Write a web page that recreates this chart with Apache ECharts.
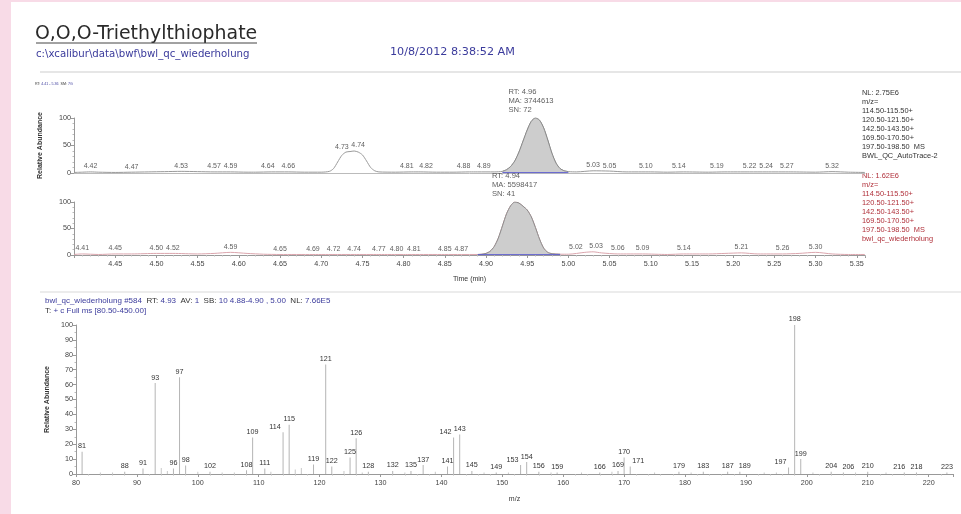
<!DOCTYPE html>
<html>
<head>
<meta charset="utf-8">
<script src="https://cdn.jsdelivr.net/npm/echarts@6/dist/echarts.min.js"></script>
<style>
html, body { margin: 0; padding: 0; background: #fff; }
#chart { width: 961px; height: 514px; }
</style>
</head>
<body>
<div id="chart"></div>
<script>
// top trace (BWL_QC_AutoTrace-2)
const time1 = [4.40,4.41,4.42,4.43,4.45,4.47,4.49,4.51,4.53,4.55,4.57,4.59,4.61,4.62,4.64,4.66,4.68,4.70,4.71,4.715,
  4.72,4.725,4.73,4.735,4.74,4.745,4.75,4.755,4.76,4.765,4.77,4.79,4.81,4.82,4.84,4.86,4.88,4.89,4.91,4.92,
  4.925,4.93,4.935,4.94,4.945,4.95,4.955,4.96,4.965,4.97,4.975,4.98,4.985,4.99,4.995,5.00,5.01,5.03,5.05,5.07,
  5.10,5.12,5.14,5.17,5.19,5.22,5.24,5.27,5.30,5.32,5.34,5.36];
const abund1 = [1,1.5,2,1.5,1,1.5,2,2.5,3,2.5,2,2,1.5,1.5,2,2,1.5,1.5,3,8,
  20,32,38,39,40,38,33,22,10,4,2,1.5,2,2,1.5,1.5,2,2,2,3,
  6,12,22,38,58,78,94,100,96,82,60,36,18,8,4,2.5,2,4,3.5,2,
  2,1.5,2,1.5,2,2,2,2,1.5,2.5,1.5,1];
const fill1 = [4.92, 5.00];
const labels1 = [4.42,4.47,4.53,4.57,4.59,4.64,4.66,4.73,4.74,4.81,4.82,4.88,4.89,5.03,5.05,5.10,5.14,5.19,5.22,5.24,5.27,5.32];
const peakRT1 = 4.96, peakMA1 = 3744613, peakSN1 = 72;
const legend1 = ['NL: 2.75E6','m/z=','114.50-115.50+','120.50-121.50+','142.50-143.50+','169.50-170.50+','197.50-198.50  MS','BWL_QC_AutoTrace-2'];

// bottom trace (bwl_qc_wiederholung)
const time2 = [4.40,4.41,4.43,4.45,4.47,4.50,4.52,4.55,4.57,4.59,4.61,4.63,4.65,4.69,4.72,4.74,4.77,4.80,4.81,4.85,4.87,4.89,
  4.895,4.90,4.905,4.91,4.915,4.92,4.925,4.93,4.935,4.94,4.945,4.95,4.955,4.96,4.965,4.97,4.975,4.98,4.99,5.00,
  5.02,5.03,5.04,5.06,5.09,5.12,5.14,5.17,5.19,5.21,5.23,5.26,5.28,5.30,5.32,5.34,5.36];
const abund2 = [1,2,1,2,2,3,3,2,3,5,3,1.5,1,1,1,1,1,1,1,1,1,1,
  1.5,3,7,16,32,55,78,93,100,98,92,85,72,52,30,13,5,2.5,1.5,1.5,
  5,6,4,2,2,1,2,2,3,4,2,2,3,5,2,1,1];
const fill2 = [4.89, 4.99];
const labels2 = [4.41,4.45,4.50,4.52,4.59,4.65,4.69,4.72,4.74,4.77,4.80,4.81,4.85,4.87,5.02,5.03,5.06,5.09,5.14,5.21,5.26,5.30];
const peakRT2 = 4.94, peakMA2 = 5598417, peakSN2 = 41;
const legend2 = ['NL: 1.62E6','m/z=','114.50-115.50+','120.50-121.50+','142.50-143.50+','169.50-170.50+','197.50-198.50  MS','bwl_qc_wiederholung'];

// mass spectrum #584
const specMz = [81,88,91,93,96,97,98,102,108,109,111,114,115,119,121,122,125,126,128,132,135,137,141,142,143,145,
  149,153,154,156,159,166,169,170,171,179,183,187,189,197,198,199,204,206,210,216,218,223];
const specAb = [15,1.5,3.7,61,3.7,65,5.7,1.5,2.5,24.5,3.7,28,33,6.4,73.5,5,11,24,1.5,2,2,6,5,24.5,26.5,2,
  1,6,8,1.5,1,1,2,11,5,1.5,1.5,1.5,1.5,4.4,100,10,1.5,1,1.5,1,1,1];
const noiseMz = [84,86,94,95,100,104,106,112,116,117,124,127,134,139,147,151,158,163,168,175,181,193,195,201,208,213];
const noiseAb = [1,1,4,2,1.5,1,1,1.5,3,4,2,1,1,1.5,1,1,1,1,1.5,1,1,1,1,1,1,1];

// label nudges for crowded labels (px), as the instrument software spreads them
const shift1 = { 4.64: -4, 4.73: -4, 4.74: 4, 4.81: -5, 4.82: 6, 4.88: -6, 4.89: 6, 5.10: -5, 5.14: -5, 5.19: -8, 5.27: -4 };
const shift2 = { 4.72: -4, 4.80: -7, 4.81: 2, 5.02: -9, 5.03: 3 };
const shiftSpec = { 114: -8, 142: -8, 153: -8, 197: -8, 171: 8, 189: 5, 206: 5, 216: -5 };

const pts = (xs, ys) => xs.map((x, i) => [x, ys[i]]);
const at = (xs, ys, x) => ys[xs.findIndex(v => Math.abs(v - x) < 1e-6)];

const FONT = '"Liberation Sans", Arial, sans-serif';
const WIDE = '"DejaVu Sans", Verdana, sans-serif';
const BLUE = '#3b3b9c';
const RED = '#b0303a';
const small = { fontFamily: FONT, fontSize: 7.2, color: '#444' };

let chart = echarts.init(document.getElementById('chart'));

function traceSeries(idx, t, a, fill, labels, shift, rt, ma, sn, lineColor) {
  return [
    {
      type: 'line', xAxisIndex: idx, yAxisIndex: idx, data: pts(t, a),
      symbol: 'none', smooth: 0.25, lineStyle: { color: lineColor, width: 1 }, z: 3
    },
    {
      type: 'line', xAxisIndex: idx, yAxisIndex: idx,
      data: pts(t, a).filter(p => p[0] >= fill[0] - 1e-6 && p[0] <= fill[1] + 1e-6),
      symbol: 'none', smooth: 0.25,
      lineStyle: { color: '#8a8a8a', width: 1 },
      areaStyle: { color: '#cdcdcd', opacity: 1 }, z: 4
    },
    {
      type: 'line', xAxisIndex: idx, yAxisIndex: idx,
      data: [[fill[0], 0.6], [fill[1], 0.6]],
      symbol: 'none', lineStyle: { color: '#5a5ad0', width: 1 }, z: 5
    },
    {
      type: 'scatter', xAxisIndex: idx, yAxisIndex: idx,
      data: labels.map(x => ({ value: [x, at(t, a, x)], label: { offset: [shift[x] || 0, 0] } })),
      symbolSize: 0, silent: true,
      label: {
        show: true, position: 'top', distance: 2,
        formatter: p => p.value[0].toFixed(2),
        fontFamily: FONT, fontSize: 7, color: '#333'
      }
    },
    {
      type: 'scatter', xAxisIndex: idx, yAxisIndex: idx,
      data: [[rt, 100]],
      symbolSize: 0, silent: true,
      label: {
        show: true, position: 'top', distance: 4, align: 'left', offset: [-27, 0],
        lineHeight: 8.8, fontFamily: FONT, fontSize: 7.6, color: '#333',
        formatter: 'RT: ' + rt.toFixed(2) + '\nMA: ' + ma + '\nSN: ' + sn
      }
    }
  ];
}

function yAxisFor(idx, name, gap) {
  return {
    type: 'value', gridIndex: idx, min: 0, max: 100, interval: 50,
    axisLine: { show: true, lineStyle: { color: '#999' } },
    axisTick: { show: true, length: 3, lineStyle: { color: '#999' } },
    minorTick: { show: true, splitNumber: 5, length: 1.5, lineStyle: { color: '#bbb' } },
    splitLine: { show: false },
    axisLabel: Object.assign({ margin: 3 }, small),
    name: name, nameLocation: 'middle', nameRotate: 90, nameGap: gap,
    nameTextStyle: { fontFamily: FONT, fontSize: 7, fontWeight: 'bold', color: '#333' }
  };
}

let options = {
  animation: false,
  backgroundColor: '#fff',
  grid: [
    { left: 74, right: 96, top: 118, height: 55 },
    { left: 74, right: 96, top: 202, height: 53 },
    { left: 76, right: 8, top: 325, height: 149 }
  ],
  xAxis: [
    {
      type: 'value', gridIndex: 0, min: 4.40, max: 5.36,
      axisLine: { show: true, lineStyle: { color: '#bbb' } },
      axisTick: { show: false }, axisLabel: { show: false }, splitLine: { show: false }
    },
    {
      type: 'value', gridIndex: 1, min: 4.40, max: 5.36, interval: 0.05,
      axisLine: { show: true, lineStyle: { color: '#999' } },
      axisTick: { show: true, length: 3, lineStyle: { color: '#999' } },
      minorTick: { show: true, splitNumber: 5, length: 1.5, lineStyle: { color: '#bbb' } },
      splitLine: { show: false },
      axisLabel: Object.assign({ margin: 6, showMinLabel: false, showMaxLabel: false, formatter: v => v.toFixed(2) }, small),
      name: 'Time (min)', nameLocation: 'middle', nameGap: 21,
      nameTextStyle: { fontFamily: FONT, fontSize: 7, color: '#333' }
    },
    {
      type: 'value', gridIndex: 2, min: 80, max: 224, interval: 10,
      axisLine: { show: true, lineStyle: { color: '#999' } },
      axisTick: { show: true, length: 3, lineStyle: { color: '#999' } },
      minorTick: { show: true, splitNumber: 5, length: 1.5, lineStyle: { color: '#bbb' } },
      splitLine: { show: false },
      axisLabel: Object.assign({ margin: 6, showMaxLabel: false }, small),
      name: 'm/z', nameLocation: 'middle', nameGap: 22,
      nameTextStyle: { fontFamily: FONT, fontSize: 7, color: '#333' }
    }
  ],
  yAxis: [
    yAxisFor(0, 'Relative Abundance', 30),
    yAxisFor(1, '', 30),
    Object.assign(yAxisFor(2, 'Relative Abundance', 24), {
      interval: 10,
      minorTick: { show: true, splitNumber: 2, length: 1.5, lineStyle: { color: '#bbb' } }
    })
  ],
  series: [
    ...traceSeries(0, time1, abund1, fill1, labels1, shift1, peakRT1, peakMA1, peakSN1, '#9a9a9a'),
    ...traceSeries(1, time2, abund2, fill2, labels2, shift2, peakRT2, peakMA2, peakSN2, '#dba5ad'),
    {
      type: 'bar', xAxisIndex: 2, yAxisIndex: 2, barWidth: 1, barGap: '-100%',
      itemStyle: { color: '#b5b5b5' },
      data: specMz.map((m, i) => ({
        value: [m, specAb[i]],
        label: { offset: [shiftSpec[m] || 0, 0] }
      })),
      label: {
        show: true, position: 'top', distance: 2,
        formatter: p => String(p.value[0]),
        fontFamily: FONT, fontSize: 7.2, color: '#333'
      }
    },
    {
      type: 'bar', xAxisIndex: 2, yAxisIndex: 2, barWidth: 1, barGap: '-100%',
      itemStyle: { color: '#c8c8c8' },
      data: pts(noiseMz, noiseAb)
    }
  ],
  graphic: [
    { type: 'rect', shape: { x: 0, y: 0, width: 11, height: 514 }, style: { fill: '#f8dbe7' }, silent: true },
    { type: 'rect', shape: { x: 0, y: 0, width: 961, height: 2 }, style: { fill: '#f8dbe7' }, silent: true },
    {
      type: 'text', x: 35, y: 34,
      style: { text: 'O,O,O-Triethylthiophate', fontFamily: WIDE, fontSize: 18.9, fill: '#2a2a2a', verticalAlign: 'middle' }
    },
    { type: 'line', shape: { x1: 36, y1: 43, x2: 257, y2: 43 }, style: { stroke: '#444', lineWidth: 1 } },
    {
      type: 'text', x: 36, y: 54,
      style: { text: 'c:\\xcalibur\\data\\bwf\\bwl_qc_wiederholung', fontFamily: WIDE, fontSize: 10.2, fill: BLUE, verticalAlign: 'middle' }
    },
    {
      type: 'text', x: 390, y: 52,
      style: { text: '10/8/2012 8:38:52 AM', fontFamily: WIDE, fontSize: 11.2, fill: BLUE, verticalAlign: 'middle' }
    },
    { type: 'line', shape: { x1: 40, y1: 72, x2: 961, y2: 72 }, style: { stroke: '#dedede', lineWidth: 1.5 } },
    { type: 'line', shape: { x1: 40, y1: 292, x2: 961, y2: 292 }, style: { stroke: '#e6e6e6', lineWidth: 1.5 } },
    {
      type: 'text', x: 35, y: 84,
      style: {
        text: '{k|RT:} 4.41 - 5.36  {k|SM:} 7G', fontFamily: FONT, fontSize: 3.6, fill: BLUE, verticalAlign: 'middle',
        rich: { k: { fill: '#333', fontSize: 3.6, fontFamily: FONT } }
      }
    },
    {
      type: 'text', x: 862, y: 88,
      style: { text: legend1.join('\n'), fontFamily: FONT, fontSize: 7.4, lineHeight: 9, fill: '#333' }
    },
    {
      type: 'text', x: 862, y: 171,
      style: { text: legend2.join('\n'), fontFamily: FONT, fontSize: 7.4, lineHeight: 9, fill: RED }
    },
    {
      type: 'text', x: 45, y: 301,
      style: {
        text: 'bwl_qc_wiederholung #584  {k|RT:} 4.93  {k|AV:} 1  {k|SB:} 10 4.88-4.90 , 5.00  {k|NL:} 7.66E5',
        fontFamily: FONT, fontSize: 8, fill: BLUE, verticalAlign: 'middle',
        rich: { k: { fill: '#333', fontSize: 8, fontFamily: FONT } }
      }
    },
    {
      type: 'text', x: 45, y: 311,
      style: {
        text: '{k|T:} + c Full ms [80.50-450.00]',
        fontFamily: FONT, fontSize: 8, fill: BLUE, verticalAlign: 'middle',
        rich: { k: { fill: '#333', fontSize: 8, fontFamily: FONT } }
      }
    }
  ]
};

if (options && typeof options === "object") {
  chart.setOption(options, true);
}
window.onresize = function() {
  chart.resize();
};
</script>
</body>
</html>
